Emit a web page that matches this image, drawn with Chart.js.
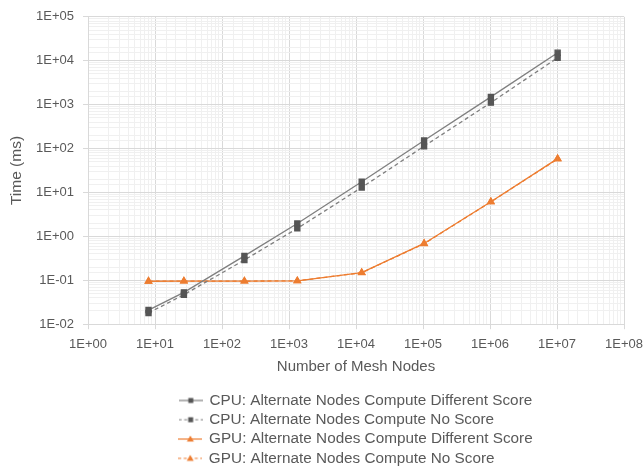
<!DOCTYPE html>
<html>
<head>
<title>CPU vs GPU mesh timing</title>
<script src="https://cdn.jsdelivr.net/npm/chart.js"></script>
<style>
  body { margin: 0; background: #fff; }
  #wrap { width: 644px; height: 468px; }
</style>
</head>
<body>
<div id="wrap"><canvas id="myChart"></canvas></div>
<script>
// mesh sizes (x) and timings in ms (y)
const meshNodes = [8, 27, 216, 1331, 12167, 103823, 1030301, 10218313];
const cpuDiffScore = [0.021, 0.053, 0.36, 1.97, 17.5, 152, 1500, 15200];
const cpuNoScore = [0.018, 0.047, 0.29, 1.52, 13.0, 113, 1110, 11700];
const gpuDiffScore = [0.095, 0.096, 0.096, 0.097, 0.15, 0.69, 6.15, 59];
const gpuNoScore = [0.095, 0.096, 0.096, 0.097, 0.149, 0.68, 6.1, 58];

const seriesNames = [
    'CPU: Alternate Nodes Compute Different Score',
    'CPU: Alternate Nodes Compute No Score',
    'GPU: Alternate Nodes Compute Different Score',
    'GPU: Alternate Nodes Compute No Score'
];

const GRAY = '#7f7f7f';
const MARK = '#555555';
const ORANGE = '#ed7d31';
const TXT = '#595959';
const FONT = '"Liberation Sans", Arial, sans-serif';
const LEGEND_SIZE = 15.3;

function isPow10(v) {
    if (!v || v <= 0) return false;
    const l = Math.log10(v);
    return Math.abs(l - Math.round(l)) < 1e-6;
}

function sciLabel(v) {
    if (!isPow10(v)) return '';
    const e = Math.round(Math.log10(v));
    return '1E' + (e < 0 ? '-' : '+') + String(Math.abs(e)).padStart(2, '0');
}

function toPoints(ys) {
    return meshNodes.map((x, i) => ({ x: x, y: ys[i] }));
}

// little line+marker pictures for the legend
function legendIcon(color, markColor, dashed, shape) {
    const c = document.createElement('canvas');
    c.width = 24; c.height = 10;
    const g = c.getContext('2d');
    g.strokeStyle = color;
    g.lineWidth = 1.2;
    if (dashed) g.setLineDash([3, 2.5]);
    g.beginPath(); g.moveTo(0, 5); g.lineTo(24, 5); g.stroke();
    g.fillStyle = markColor;
    g.beginPath();
    if (shape === 'rect') {
        g.rect(9.5, 2.5, 5, 5);
    } else {
        g.moveTo(12, 1.5); g.lineTo(15.5, 7.5); g.lineTo(8.5, 7.5); g.closePath();
    }
    g.fill();
    return c;
}

const icons = [
    legendIcon(GRAY, MARK, false, 'rect'),
    legendIcon(GRAY, MARK, true, 'rect'),
    legendIcon(ORANGE, ORANGE, false, 'tri'),
    legendIcon(ORANGE, ORANGE, true, 'tri')
];

const ctx = document.getElementById('myChart').getContext('2d');

const gridColor = (c) => (c.tick && isPow10(c.tick.value)) ? '#d9d9d9' : '#f0f0f0';
const tickMarkColor = (c) => (c.tick && isPow10(c.tick.value)) ? '#d9d9d9' : 'rgba(0,0,0,0)';

new Chart(ctx, {
    type: 'scatter',
    data: {
        datasets: [{
            label: seriesNames[0],
            data: toPoints(cpuDiffScore),
            borderColor: GRAY,
            backgroundColor: MARK,
            pointBorderColor: MARK,
            borderWidth: 1.3,
            pointStyle: 'rect',
            pointRadius: 3.6,
            showLine: true
        }, {
            label: seriesNames[1],
            data: toPoints(cpuNoScore),
            borderColor: GRAY,
            backgroundColor: MARK,
            pointBorderColor: MARK,
            borderWidth: 1.3,
            borderDash: [4, 3],
            pointStyle: 'rect',
            pointRadius: 3.6,
            showLine: true
        }, {
            label: seriesNames[3],
            data: toPoints(gpuNoScore),
            borderColor: ORANGE,
            backgroundColor: ORANGE,
            borderWidth: 1.3,
            borderDash: [4, 3],
            pointStyle: 'triangle',
            pointRadius: 3.6,
            showLine: true
        }, {
            label: seriesNames[2],
            data: toPoints(gpuDiffScore),
            borderColor: ORANGE,
            backgroundColor: ORANGE,
            borderWidth: 1.3,
            pointStyle: 'triangle',
            pointRadius: 3.6,
            showLine: true
        }]
    },
    options: {
        responsive: true,
        maintainAspectRatio: false,
        animation: false,
        layout: { padding: { top: 10, right: 0, left: 4, bottom: -8 } },
        plugins: {
            tooltip: { enabled: false },
            legend: {
                position: 'bottom',
                fullSize: false,
                align: 'center',
                labels: {
                    color: TXT,
                    font: { family: FONT, size: LEGEND_SIZE },
                    usePointStyle: true,
                    pointStyleWidth: 22,
                    padding: 4,
                    generateLabels(chart) {
                        const items = Chart.defaults.plugins.legend.labels.generateLabels(chart);
                        // order as in the picture
                        const ordered = seriesNames.map(n => items.find(it => it.text === n));
                        const g = chart.ctx;
                        g.save();
                        g.font = LEGEND_SIZE + 'px ' + FONT;
                        const widest = Math.max(...ordered.map(it => g.measureText(it.text).width));
                        ordered.forEach((it, i) => {
                            // pad shorter names so every row starts at the same x
                            while (g.measureText(it.text + '\u00a0').width <= widest + 1) it.text += '\u00a0';
                            it.pointStyle = icons[i];
                            it.lineWidth = 0;
                        });
                        g.restore();
                        return ordered;
                    }
                }
            }
        },
        scales: {
            x: {
                type: 'logarithmic',
                min: 1,
                max: 1e8,
                afterFit: (s) => { s.paddingRight = 20; },
                title: {
                    display: true,
                    text: 'Number of Mesh Nodes',
                    color: TXT,
                    font: { family: FONT, size: 15, lineHeight: 1 },
                    padding: { top: 0.5, bottom: 14.5 }
                },
                ticks: {
                    autoSkip: false,
                    maxRotation: 0,
                    color: TXT,
                    font: { family: FONT, size: 13 },
                    padding: 7,
                    callback: (v) => sciLabel(v)
                },
                grid: { color: gridColor, tickColor: tickMarkColor, tickLength: 5 },
                border: { color: '#d9d9d9' }
            },
            y: {
                type: 'logarithmic',
                min: 0.01,
                max: 1e5,
                afterFit: (s) => { s.width = 84; },
                title: {
                    display: true,
                    text: 'Time (ms)',
                    color: TXT,
                    font: { family: FONT, size: 15.5 },
                    padding: { top: 3, bottom: 4 }
                },
                ticks: {
                    autoSkip: false,
                    color: TXT,
                    font: { family: FONT, size: 13 },
                    padding: 9,
                    callback: (v) => sciLabel(v)
                },
                grid: { color: gridColor, tickColor: tickMarkColor, tickLength: 5 },
                border: { color: '#d9d9d9' }
            }
        }
    }
});
</script>
</body>
</html>
